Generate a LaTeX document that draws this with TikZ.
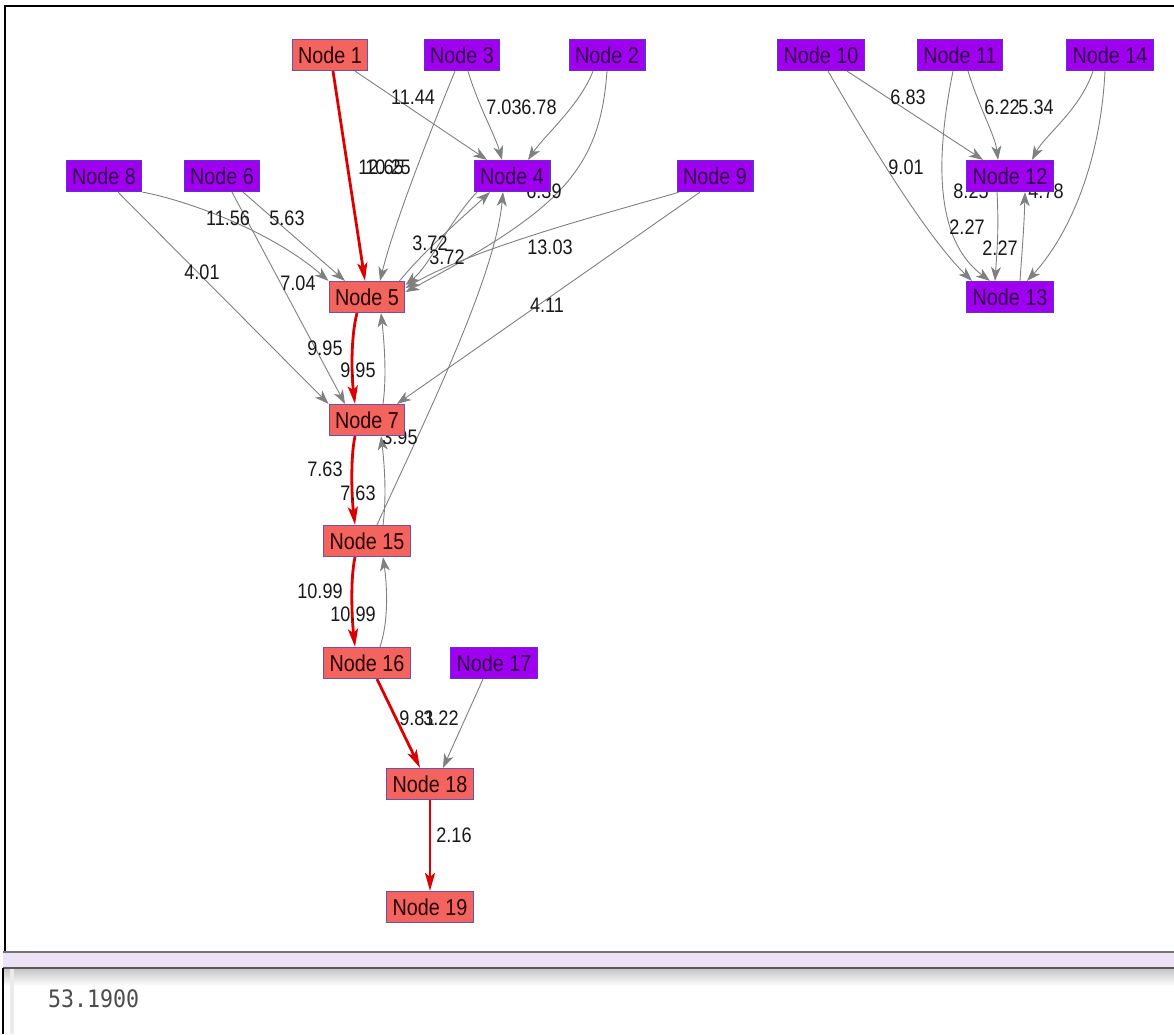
\documentclass[tikz,border=0pt]{standalone}
\usepackage{fontspec}
\newfontfamily\nodefont[FakeStretch=0.86]{Liberation Sans}
\newfontfamily\numfont[FakeStretch=0.9]{DejaVu Sans Mono}
\usetikzlibrary{arrows.meta}
\pgfdeclarelayer{bg}
\pgfdeclarelayer{edges}
\pgfsetlayers{bg,edges,main}
\definecolor{rednode}{HTML}{F4645F}
\definecolor{purnode}{HTML}{A000F0}
\definecolor{redborder}{HTML}{6E50B0}
\definecolor{purborder}{HTML}{6030D0}
\definecolor{edgegray}{HTML}{808080}
\definecolor{pathred}{HTML}{DD0000}
\definecolor{barfill}{HTML}{EEE2F6}
\tikzset{
  gnode/.style={draw, line width=1.2pt, minimum height=31pt, inner xsep=6pt, inner ysep=0pt,
    font=\nodefont\fontsize{23}{23}\selectfont, text height=16pt, text depth=0pt},
  rnode/.style={gnode, fill=rednode, draw=redborder, text=black!85!red},
  pnode/.style={gnode, fill=purnode, draw=purborder, text=black!70!purnode},
  gedge/.style={draw=edgegray, line width=0.9pt, -{Stealth[length=14pt,width=10pt,inset=4pt]}},
  redge/.style={draw=pathred, line width=2.8pt, -{Stealth[length=18pt,width=10pt,inset=4pt]}},
  lbl/.style={font=\nodefont\fontsize{21}{21}\selectfont, inner sep=0pt, text=black!90},
}
\begin{document}
\begin{tikzpicture}[x=1pt,y=-1pt]
\useasboundingbox (0,0) rectangle (1174,1034);
\begin{pgfonlayer}{bg}
  \fill[white] (0,0) rectangle (1174,1034);
  \draw[line width=2.6pt] (5,952) -- (5,6) -- (1174,6);
  \fill[barfill] (3,953) rectangle (1174,967);
  \draw[line width=1.5pt, black!55] (3,952) -- (1174,952);
  \draw[line width=1.5pt, black!65] (3,968) -- (1174,968);
  \shade[top color=black!22, bottom color=white] (3,969) rectangle (1174,986);
  \draw[line width=2pt] (3,968) -- (3,1034);
  \fill[black!8] (10,969) rectangle (14,1034);
\end{pgfonlayer}

% nodes
\node[rnode] (n1) at (330,55) {Node 1};
\node[pnode] (n3) at (462,55) {Node 3};
\node[pnode] (n2) at (607,55) {Node 2};
\node[pnode] (n10) at (821,55) {Node 10};
\node[pnode] (n11) at (960,55) {Node 11};
\node[pnode] (n14) at (1110,55) {Node 14};
\node[pnode] (n8) at (104,176) {Node 8};
\node[pnode] (n6) at (222,176) {Node 6};
\node[pnode] (n4) at (512,176) {Node 4};
\node[pnode] (n9) at (715,176) {Node 9};
\node[pnode] (n12) at (1010,176) {Node 12};
\node[rnode] (n5) at (367,297) {Node 5};
\node[pnode] (n13) at (1010,297) {Node 13};
\node[rnode] (n7) at (367,420) {Node 7};
\node[rnode] (n15) at (367,541) {Node 15};
\node[rnode] (n16) at (367,663) {Node 16};
\node[pnode] (n17) at (494,663) {Node 17};
\node[rnode] (n18) at (430,784) {Node 18};
\node[rnode] (n19) at (430,907) {Node 19};

\node[font=\numfont\fontsize{24}{24}\selectfont, text=black!70, anchor=west, inner sep=0pt] (result) at (48,999) {53.1900};

\begin{pgfonlayer}{edges}
  % left component
  \draw[redge] ([xshift=3pt]n1.south) -- ([xshift=-2pt]n5.north);
  \draw[gedge] ([xshift=25pt]n1.south) -- ([xshift=-25pt]n4.north);
  \draw[gedge] ([xshift=-7pt]n3.south) .. controls (435,120) and (395,220) .. ([xshift=13pt]n5.north);
  \draw[gedge] ([xshift=6pt]n3.south) .. controls (478,105) and (495,135) .. ([xshift=-10pt]n4.north);
  \draw[gedge] ([xshift=-14pt]n2.south) .. controls (580,105) and (545,135) .. ([xshift=16pt]n4.north);
  \draw[gedge] (n2.south) .. controls (600,170) and (560,210) .. ([yshift=5pt]n5.east);
  \draw[gedge] ([xshift=-6pt]n5.north east) .. controls (425,250) and (465,215) .. ([xshift=-22pt]n4.south);
  \draw[gedge] ([xshift=-35pt]n4.south) .. controls (450,220) and (430,265) .. ([yshift=12pt]n5.east);
  \draw[gedge] ([xshift=-36pt]n9.south) .. controls (620,210) and (480,245) .. ([yshift=9pt]n5.east);
  \draw[gedge] ([xshift=-15pt]n9.south) -- ([xshift=30pt]n7.north);
  \draw[gedge] (n8.south east) .. controls (185,200) and (270,230) .. (n5.north west);
  \draw[gedge] ([xshift=21pt]n6.south) -- ([xshift=-22pt]n5.north);
  \draw[gedge] ([xshift=10pt]n6.south) -- ([xshift=-22pt]n7.north);
  \draw[gedge] ([xshift=14pt]n8.south) -- (n7.north west);
  \draw[redge] ([xshift=-10pt]n5.south) .. controls (350,340) and (352,380) .. ([xshift=-12pt]n7.north);
  \draw[gedge] ([xshift=16pt]n7.north) .. controls (387,375) and (384,340) .. ([xshift=14pt]n5.south);
  \draw[redge] ([xshift=-12pt]n7.south) .. controls (350,460) and (352,500) .. ([xshift=-12pt]n15.north);
  \draw[gedge] ([xshift=16pt]n15.north) .. controls (387,495) and (384,460) .. ([xshift=14pt]n7.south);
  \draw[gedge] ([xshift=10pt]n15.north) .. controls (420,430) and (495,280) .. ([xshift=-9pt]n4.south);
  \draw[redge] ([xshift=-12pt]n15.south) .. controls (350,580) and (352,620) .. ([xshift=-12pt]n16.north);
  \draw[gedge] ([xshift=13pt]n16.north) .. controls (389,620) and (387,585) .. ([xshift=16pt]n15.south);
  \draw[redge] ([xshift=10pt]n16.south) -- ([xshift=-10pt]n18.north);
  \draw[gedge] ([xshift=-11pt]n17.south) -- ([xshift=13pt]n18.north);
  \draw[redge] (n18.south) -- (n19.north);
  % right component
  \draw[gedge] ([xshift=26pt]n10.south) -- ([xshift=-27pt]n12.north);
  \draw[gedge] ([xshift=7pt]n10.south) .. controls (865,135) and (925,235) .. ([xshift=-38pt]n13.north);
  \draw[gedge] ([xshift=8pt]n11.south) .. controls (980,110) and (995,135) .. ([xshift=-12pt]n12.north);
  \draw[gedge] ([xshift=-17pt]n14.south) .. controls (1080,110) and (1045,135) .. ([xshift=22pt]n12.north);
  \draw[gedge] ([xshift=-7pt]n11.south) .. controls (935,160) and (935,240) .. ([xshift=-20pt]n13.north);
  \draw[gedge] ([xshift=-5pt]n14.south) .. controls (1100,170) and (1065,240) .. ([xshift=17pt]n13.north);
  \draw[gedge] ([xshift=-13pt]n12.south) .. controls (999,230) and (997,250) .. ([xshift=-15pt]n13.north);
  \draw[gedge] ([xshift=10pt]n13.north) .. controls (1022,250) and (1024,230) .. ([xshift=15pt]n12.south);

  % labels
  \node[lbl] (la) at (381,167) {12.65};
  \node[lbl] (lb) at (388,167) {10.25};
  \node[lbl] (lc) at (413,97) {11.44};
  \node[lbl] (ld) at (504,107) {7.03};
  \node[lbl] (le) at (539,107) {6.78};
  \node[lbl] (lf) at (544,191) {6.39};
  \node[lbl] (lg) at (430,243) {3.72};
  \node[lbl] (lh) at (447,257) {3.72};
  \node[lbl] (li) at (550,247) {13.03};
  \node[lbl] (lj) at (547,305) {4.11};
  \node[lbl] (lk) at (228,218) {11.56};
  \node[lbl] (ll) at (287,218) {5.63};
  \node[lbl] (lm) at (202,272) {4.01};
  \node[lbl] (ln) at (298,283) {7.04};
  \node[lbl] (lo) at (325,348) {9.95};
  \node[lbl] (lp) at (358,370) {9.95};
  \node[lbl] (lq) at (400,437) {3.95};
  \node[lbl] (lr) at (325,469) {7.63};
  \node[lbl] (ls) at (358,493) {7.63};
  \node[lbl] (lt) at (320,591) {10.99};
  \node[lbl] (lu) at (353,614) {10.99};
  \node[lbl] (lv) at (417,718) {9.81};
  \node[lbl] (lw) at (441,718) {3.22};
  \node[lbl] (lx) at (454,835) {2.16};
  \node[lbl] (ly) at (908,97) {6.83};
  \node[lbl] (lz) at (906,167) {9.01};
  \node[lbl] (lA) at (1002,107) {6.22};
  \node[lbl] (lB) at (1036,107) {5.34};
  \node[lbl] (lC) at (971,191) {8.25};
  \node[lbl] (lD) at (1046,191) {4.78};
  \node[lbl] (lE) at (967,227) {2.27};
  \node[lbl] (lF) at (1000,248) {2.27};
\end{pgfonlayer}
\end{tikzpicture}
\end{document}
